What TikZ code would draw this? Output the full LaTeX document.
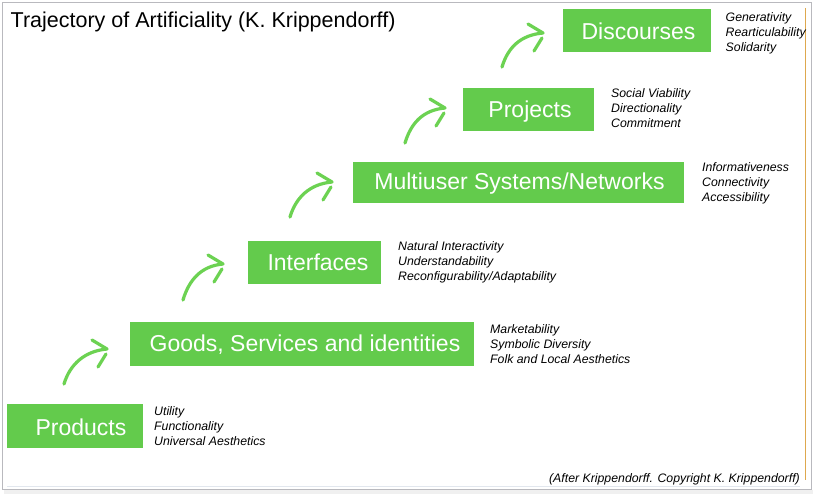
\documentclass[tikz,border=0pt]{standalone}
\usepackage{fontspec}
\setmainfont{Liberation Sans}
\usetikzlibrary{calc}
\definecolor{boxgreen}{RGB}{99,203,76}
\definecolor{arrgreen}{RGB}{108,210,82}
\definecolor{frameorange}{RGB}{222,168,78}
\definecolor{framegray}{RGB}{185,185,190}
\definecolor{innerline}{RGB}{226,231,238}
\tikzset{
  gbox/.style={fill=boxgreen, draw=none, inner sep=0pt},
  glabel/.style={text=white, inner sep=0pt, text height=16.5pt, text depth=0pt,
    font=\fontsize{23}{27}\selectfont},
  attr/.style={anchor=north west, inner sep=0pt, align=left,
    font=\fontsize{12.3}{14.7}\selectfont\itshape},
  garrow/.style={draw=arrgreen, line width=3.2pt, line cap=round},
}
\begin{document}
\begin{tikzpicture}[x=1pt,y=-1pt]
\useasboundingbox (0,0) rectangle (814,495);
% slide frame
\fill[white] (0,0) rectangle (814,495);
\fill[gray!12] (4,490) rectangle (813,494);
\draw[framegray, line width=0.8pt] (2.5,2.5) rectangle (811.5,489.5);
\draw[innerline, line width=1pt] (7,486.5) -- (800,486.5);
\draw[frameorange, line width=1.2pt] (805.8,8) -- (805.8,480);

% title
\node[anchor=base west, inner sep=0pt, font=\fontsize{21.5}{25}\selectfont] (title) at (10.5,27.3)
  {Trajectory of Artificiality (K. Krippendorff)};

% boxes
\node[gbox, minimum width=136pt, minimum height=44pt] (b1) at (75,426) {};
\node[gbox, minimum width=344pt, minimum height=44pt] (b2) at (302,344) {};
\node[gbox, minimum width=133pt, minimum height=43pt] (b3) at (314.5,262.5) {};
\node[gbox, minimum width=331pt, minimum height=41pt] (b4) at (518.5,182.5) {};
\node[gbox, minimum width=131pt, minimum height=43pt] (b5) at (528.5,109.5) {};
\node[gbox, minimum width=148pt, minimum height=43pt] (b6) at (637,31) {};

% box labels
\node[glabel] (l1) at (81,426.8) {Products};
\node[glabel] (l2) at (305,342.8) {Goods, Services and identities};
\node[glabel] (l3) at (318,262) {Interfaces};
\node[glabel] (l4) at (519.5,181) {Multiuser Systems/Networks};
\node[glabel] (l5) at (530,109) {Projects};
\node[glabel] (l6) at (638.5,31) {Discourses};

% attributes
\node[attr] (a1) at (154,406.5) {Utility\\Functionality\\Universal Aesthetics};
\node[attr] (a2) at (490,324.5) {Marketability\\Symbolic Diversity\\Folk and Local Aesthetics};
\node[attr] (a3) at (398,241.5) {Natural Interactivity\\Understandability\\Reconfigurability/Adaptability};
\node[attr] (a4) at (702,162.5) {Informativeness\\Connectivity\\Accessibility};
\node[attr] (a5) at (611,88.5) {Social Viability\\Directionality\\Commitment};
\node[attr] (a6) at (725.5,12.5) {Generativity\\Rearticulability\\Solidarity};

% curved hand-drawn arrows
\foreach \i/\sx/\sy/\tx/\ty in {1/64/384/107/349, 2/183/300/223/264, 3/290/217/332/182, 4/405/143/445/108, 5/502/67/543/33}{
  \coordinate (s\i) at (\sx,\sy);
  \coordinate (t\i) at (\tx,\ty);
  \coordinate (u\i) at ($(t\i)+(-15,-9)$);
  \coordinate (v\i) at ($(t\i)+(-9,18)$);
  \coordinate (w\i) at ($(t\i)+(-1,5)$);
  \draw[garrow] (s\i) .. controls ($(s\i)+(6,-20)$) and ($(t\i)+(-22,2)$) .. (t\i);
  \draw[garrow] (u\i) -- (t\i);
  \draw[garrow] (v\i) -- (w\i);
}

% footnote
\node[anchor=base east, inner sep=0pt, font=\fontsize{12.3}{14}\selectfont\itshape] (foot) at (800,482)
  {(After Krippendorff. Copyright K. Krippendorff)};
\end{tikzpicture}
\end{document}
